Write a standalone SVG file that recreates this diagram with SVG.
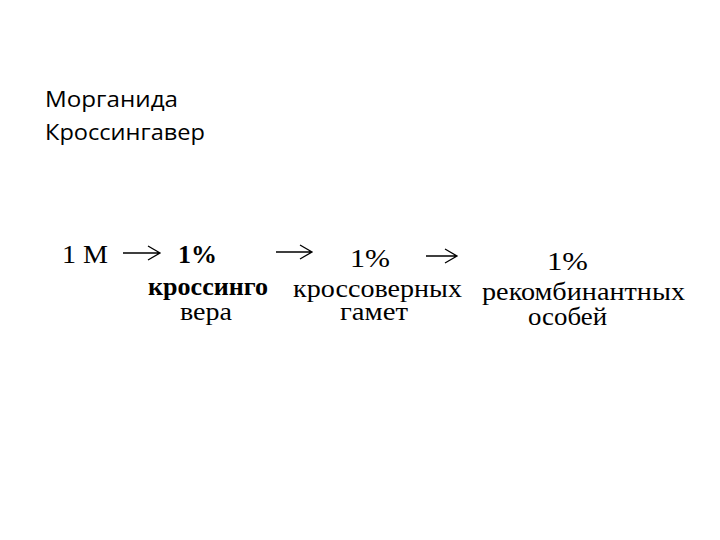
<svg xmlns="http://www.w3.org/2000/svg" width="720" height="540" viewBox="0 0 720 540">
<style>
.t{font-family:"Open Sans","Liberation Sans",sans-serif;font-size:21px;fill:#000}
.s{font-family:"Liberation Serif","Times New Roman",serif;font-size:26px;fill:#000}
.b{font-weight:bold}
.a{fill:none;stroke:#000;stroke-width:1.3}
</style>
<rect width="720" height="540" fill="#fff"/>
<g id="title">
<text class="t" x="45" y="107" textLength="133" lengthAdjust="spacingAndGlyphs">Морганида</text>
<text class="t" x="45" y="140" textLength="160" lengthAdjust="spacingAndGlyphs">Кроссингавер</text>
</g>
<g id="n1"><text class="s" x="62" y="263" textLength="46" lengthAdjust="spacingAndGlyphs">1 М</text></g>
<g id="n2">
<text class="s b" x="178" y="263" textLength="39" lengthAdjust="spacingAndGlyphs">1%</text>
<text class="s b" x="148" y="295" textLength="120" lengthAdjust="spacingAndGlyphs">кроссинго</text>
<text class="s" x="180" y="320" textLength="52" lengthAdjust="spacingAndGlyphs">вера</text>
</g>
<g id="n3">
<text class="s" x="350" y="267" textLength="40" lengthAdjust="spacingAndGlyphs">1%</text>
<text class="s" x="293" y="297" textLength="169" lengthAdjust="spacingAndGlyphs">кроссоверных</text>
<text class="s" x="340" y="320" textLength="68" lengthAdjust="spacingAndGlyphs">гамет</text>
</g>
<g id="n4">
<text class="s" x="547" y="270" textLength="41" lengthAdjust="spacingAndGlyphs">1%</text>
<text class="s" x="482" y="300" textLength="203" lengthAdjust="spacingAndGlyphs">рекомбинантных</text>
<text class="s" x="528" y="325" textLength="79" lengthAdjust="spacingAndGlyphs">особей</text>
</g>
<g id="connectors">
<path class="a" d="M123 253H159M148 246L160 253L148 260"/>
<path class="a" d="M276 252H311M300 245L312 252L300 259"/>
<path class="a" d="M426 256H456M445 249L457 256L445 263"/>
</g>
</svg>
